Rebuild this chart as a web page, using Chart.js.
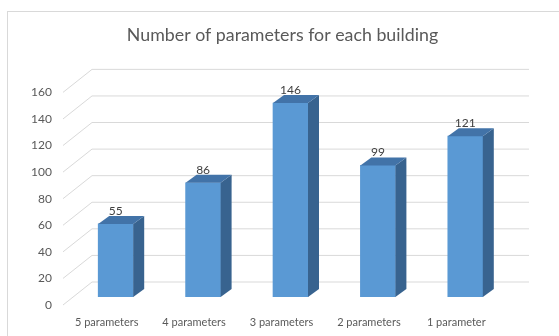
<!DOCTYPE html>
<html>
<head>
<meta charset="utf-8">
<script src="https://cdn.jsdelivr.net/npm/chart.js@4/dist/chart.umd.min.js"></script>
<style>
  html, body { margin: 0; padding: 0; background: #ffffff; }
  #wrap { width: 559px; height: 336px; }
</style>
</head>
<body>
<div id="wrap"><canvas id="chart" width="559" height="336"></canvas></div>
<script>
// Categories and counts
const categories = ['5 parameters', '4 parameters', '3 parameters', '2 parameters', '1 parameter'];
const counts = [55, 86, 146, 99, 121];
// Value axis range
const yMin = 0;
const yMax = 160;
const yStep = 20;

const FONT = "Lato, 'Open Sans', 'Liberation Sans', sans-serif";

// Pseudo-3D look: back wall offset, label plane offset, bar depth
const WALL = { dx: 20, dy: -15 };
const FRONT = { dx: -9, dy: 8 };
const DEPTH = { dx: 11, dy: -8 };

const frame3d = {
  id: 'frame3d',
  beforeDraw(chart) {
    const ctx = chart.ctx;
    ctx.save();
    ctx.fillStyle = '#ffffff';
    ctx.fillRect(0, 0, chart.width, chart.height);
    ctx.strokeStyle = '#d9d9d9';
    ctx.lineWidth = 1;
    ctx.strokeRect(7.5, 11.5, chart.width + 20, chart.height + 20);
    ctx.restore();
  },
  beforeDatasetsDraw(chart) {
    const ctx = chart.ctx;
    const y = chart.scales.y;
    const a = chart.chartArea;
    ctx.save();
    ctx.strokeStyle = '#d9d9d9';
    ctx.lineWidth = 1;
    y.ticks.forEach(t => {
      const py = y.getPixelForValue(t.value);
      ctx.beginPath();
      ctx.moveTo(a.left + FRONT.dx, py + FRONT.dy);
      ctx.lineTo(a.left + WALL.dx, py + WALL.dy);
      ctx.lineTo(a.right + WALL.dx, py + WALL.dy);
      ctx.stroke();
    });
    ctx.restore();
  },
  afterDatasetsDraw(chart) {
    const ctx = chart.ctx;
    const meta = chart.getDatasetMeta(0);
    const data = chart.data.datasets[0].data;
    ctx.save();
    meta.data.forEach((bar, i) => {
      const p = bar.getProps(['x', 'y', 'base', 'width'], true);
      const l = p.x - p.width / 2;
      const r = p.x + p.width / 2;
      const top = p.y;
      const base = p.base;
      // side face
      ctx.fillStyle = '#38638f';
      ctx.beginPath();
      ctx.moveTo(r, top);
      ctx.lineTo(r + DEPTH.dx, top + DEPTH.dy);
      ctx.lineTo(r + DEPTH.dx, base + DEPTH.dy);
      ctx.lineTo(r, base);
      ctx.closePath();
      ctx.fill();
      // top face
      ctx.fillStyle = '#4273a8';
      ctx.beginPath();
      ctx.moveTo(l, top);
      ctx.lineTo(l + DEPTH.dx, top + DEPTH.dy);
      ctx.lineTo(r + DEPTH.dx, top + DEPTH.dy);
      ctx.lineTo(r, top);
      ctx.closePath();
      ctx.fill();
      // value label
      ctx.fillStyle = '#404040';
      ctx.font = '12px ' + FONT;
      ctx.textAlign = 'center';
      ctx.textBaseline = 'middle';
      ctx.fillText(String(data[i]), p.x, top - 13);
    });
    ctx.restore();
  }
};

new Chart(document.getElementById('chart'), {
  type: 'bar',
  data: {
    labels: categories,
    datasets: [{
      data: counts,
      backgroundColor: '#5a99d4',
      borderWidth: 0,
      barThickness: 35,
      categoryPercentage: 1
    }]
  },
  options: {
    responsive: false,
    animation: false,
    devicePixelRatio: 1,
    layout: { padding: { left: 6, right: 0, top: 0, bottom: 7 } },
    plugins: {
      legend: { display: false },
      tooltip: { enabled: false },
      title: {
        display: true,
        text: 'Number of parameters for each building',
        color: '#595959',
        font: { family: FONT, size: 17.8, weight: 'normal', lineHeight: 1.2 },
        padding: { top: 25, bottom: 38 }
      }
    },
    scales: {
      x: {
        grid: { display: false, drawTicks: false },
        border: { display: false },
        afterFit(scale) { scale.height = 32; },
        ticks: {
          color: '#595959',
          font: { family: FONT, size: 11 },
          padding: 19,
          labelOffset: -9,
          maxRotation: 0,
          autoSkip: false
        }
      },
      y: {
        min: yMin,
        max: yMax,
        grid: { display: false, drawTicks: false },
        border: { display: false },
        afterFit(scale) { scale.width = 66; },
        ticks: {
          stepSize: yStep,
          color: '#595959',
          font: { family: FONT, size: 12 },
          padding: 20,
          labelOffset: 8
        }
      },
      // blank right-hand margin for the back wall to extend into
      yRight: {
        position: 'right',
        min: yMin,
        max: yMax,
        grid: { display: false, drawTicks: false },
        border: { display: false },
        ticks: { display: false },
        afterFit(scale) { scale.width = 50; }
      }
    }
  },
  plugins: [frame3d]
});
</script>
</body>
</html>
